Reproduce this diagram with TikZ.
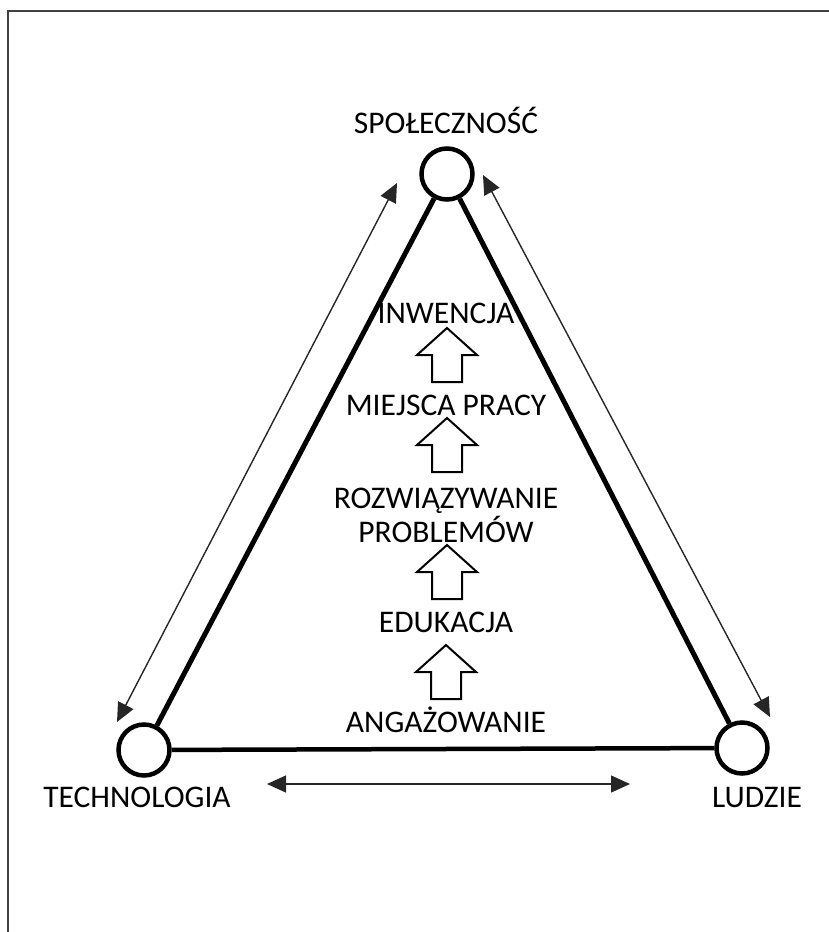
\documentclass[tikz,border=0pt]{standalone}
\usepackage{fontspec}
\setmainfont{Carlito}
\usetikzlibrary{arrows.meta}
\begin{document}
\begin{tikzpicture}[x=1pt,y=-1pt,
    vertex/.style={draw,circle,line width=4.5pt,minimum size=51pt,inner sep=0pt,fill=white},
    edge/.style={line width=5pt},
    link/.style={line width=1.4pt,black!85,{Triangle[length=19pt,width=17pt]}-{Triangle[length=19pt,width=17pt]}},
    lbl/.style={anchor=base,inner sep=0pt,font=\fontsize{31.5}{36}\selectfont},
    blockarrow/.pic={\draw [line width=2pt,fill=white] (0,0) -- (30,27) -- (15,27) -- (15,54) -- (-15,54) -- (-15,27) -- (-30,27) -- cycle;}]
            \useasboundingbox (0,0) rectangle (829,932);
            % frame
            \draw [line width=2pt,black!75] (8,932) -- (8,11) -- (829,11);
            % corners of the triangle
            \node [vertex] (spol) at (447,174) {};
            \node [vertex] (tech) at (144,750) {};
            \node [vertex] (ludz) at (742,748) {};
            \draw [edge] (spol) -- (tech);
            \draw [edge] (spol) -- (ludz);
            \draw [line width=4.5pt] (tech) -- (ludz);
            \node [lbl] (spoltxt) at (446,133) {SPOŁECZNOŚĆ};
            \node [lbl] (techtxt) at (137,807) {TECHNOLOGIA};
            \node [lbl] (ludztxt) at (757,807) {LUDZIE};
            % thin arrows along the sides
            \coordinate (l1) at (397,183);
            \coordinate (l2) at (117,722);
            \coordinate (r1) at (483,175);
            \coordinate (r2) at (770,717);
            \coordinate (b1) at (267,784);
            \coordinate (b2) at (630,784);
            \draw [link] (l1) -- (l2);
            \draw [link] (r1) -- (r2);
            \draw [link] (b1) -- (b2);
            % steps in the middle
            \node [lbl] (inw) at (446,323) {INWENCJA};
            \node [lbl] (miej) at (446,415) {MIEJSCA PRACY};
            \node [lbl] (rozw) at (446,508) {ROZWIĄZYWANIE};
            \node [lbl] (prob) at (446,542) {PROBLEMÓW};
            \node [lbl] (eduk) at (446,632) {EDUKACJA};
            \node [lbl] (anga) at (446,732) {ANGAŻOWANIE};
            \pic at (447,328) {blockarrow};
            \pic at (447,418) {blockarrow};
            \pic at (447,545) {blockarrow};
            \pic at (446,645) {blockarrow};
\end{tikzpicture}
\end{document}
